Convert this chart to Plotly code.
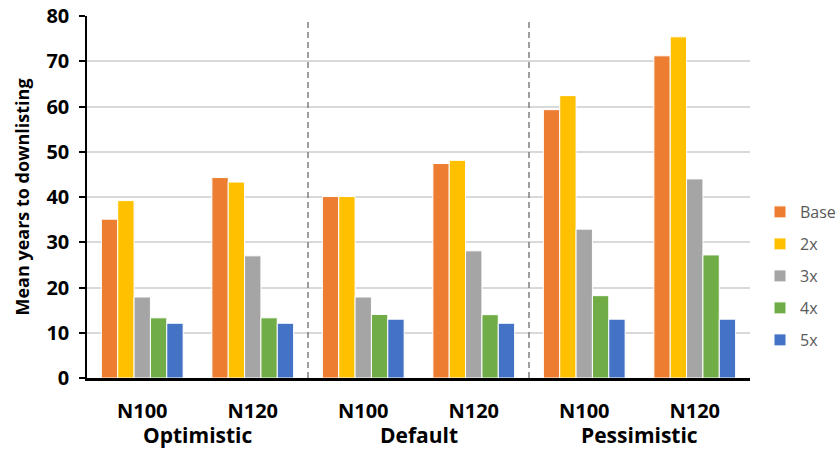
import plotly.graph_objects as go

# Scenario groups and population targets on the x axis
scenarios = ["Optimistic", "Default", "Pessimistic"]
targets = ["N100", "N120"]

# Mean years to downlisting per effort level, in order:
# Optimistic N100, Optimistic N120, Default N100, Default N120, Pessimistic N100, Pessimistic N120
base = [35.1, 44.3, 40.1, 47.4, 59.3, 71.2]
x2 = [39.2, 43.3, 40.1, 48.1, 62.4, 75.4]
x3 = [17.9, 27.0, 17.9, 28.1, 32.9, 44.0]
x4 = [13.3, 13.3, 14.05, 14.0, 18.2, 27.2]
x5 = [12.1, 12.1, 13.0, 12.1, 13.0, 13.0]

series_names = ["Base", "2x", "3x", "4x", "5x"]
series_values = [base, x2, x3, x4, x5]
series_colors = ["#ED7D31", "#FFC000", "#A5A5A5", "#70AD47", "#4472C4"]

y_ticks = [0, 10, 20, 30, 40, 50, 60, 70, 80]

FONT = "Open Sans"

# one unique category per scenario/target pair, labelled by target only
cat_keys = [f"{s} {t}" for s in scenarios for t in targets]
cat_text = [t for s in scenarios for t in targets]

fig = go.Figure()

legend_y = [212, 244, 276, 308, 340]  # pixel rows of the legend entries
plot_top, plot_bottom = 16, 378
plot_left, plot_right = 87, 750

for i, (name, vals, col) in enumerate(zip(series_names, series_values, series_colors)):
    lg = "legend" if i == 0 else f"legend{i + 1}"
    fig.add_trace(go.Bar(
        x=cat_keys, y=vals, name=name, showlegend=True,
        marker=dict(color=col, line=dict(color="white", width=1)),
        legend=lg,
    ))

layout_legends = {}
for i, py in enumerate(legend_y):
    lg = "legend" if i == 0 else f"legend{i + 1}"
    layout_legends[lg] = dict(
        x=(760 - plot_left) / (plot_right - plot_left),
        y=(plot_bottom - py) / (plot_bottom - plot_top),
        xanchor="left", yanchor="middle",
        font=dict(family=FONT, size=16, color="#595959"),
        bgcolor="rgba(0,0,0,0)",
    )

# dashed separators between scenario groups
for xv in [1.5, 3.5]:
    fig.add_shape(type="line", xref="x", yref="y", x0=xv, x1=xv, y0=0, y1=79.3,
                  line=dict(color="#7F7F7F", width=1.5, dash="6px,4px"))

# scenario names under the target labels
for k, s in enumerate(scenarios):
    fig.add_annotation(
        x=2 * k + 0.5, xref="x", y=(plot_bottom - 435) / (plot_bottom - plot_top), yref="paper",
        text=f"<b>{s}</b>", showarrow=False, xanchor="center", yanchor="middle",
        font=dict(family=FONT, size=21, color="black"),
    )

fig.update_layout(
    width=839, height=450,
    margin=dict(l=plot_left, r=839 - plot_right, t=plot_top, b=450 - plot_bottom,
                autoexpand=False),
    paper_bgcolor="white", plot_bgcolor="white",
    barmode="group", bargap=0.26, bargroupgap=0,
    showlegend=True,
    **layout_legends,
)

fig.update_xaxes(
    type="category", tickvals=cat_keys, ticktext=[f"<b>{t}</b>" for t in cat_text],
    tickfont=dict(family=FONT, size=20, color="black"),
    showline=True, linecolor="black", linewidth=2.5, ticks="",
    showgrid=False, ticklabelstandoff=13, range=[-0.5, 5.5], automargin=False,
)

fig.update_yaxes(
    range=[0, 80], tickvals=y_ticks, ticktext=[f"<b>{v}</b>" for v in y_ticks],
    tickfont=dict(family=FONT, size=20, color="black"),
    showline=True, linecolor="black", linewidth=1.5,
    ticks="outside", ticklen=6, tickwidth=1.5, tickcolor="black",
    showgrid=True, gridcolor="#D9D9D9", gridwidth=1.5, zeroline=False,
    ticklabelstandoff=6, automargin=False,
    title=dict(text="<b>Mean years to downlisting</b>",
               font=dict(family=FONT, size=18, color="black"), standoff=12),
)

fig.write_html("out.html")
